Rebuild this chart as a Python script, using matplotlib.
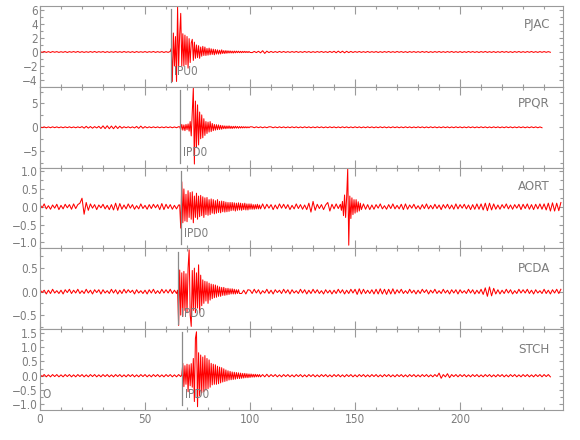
import numpy as np
import matplotlib
matplotlib.use('Agg')
import matplotlib.pyplot as plt
from matplotlib import font_manager as fm
from matplotlib.ticker import MultipleLocator, FuncFormatter

# ---------------- data ----------------
DT = 1.0        # background sample interval (s), traces start at t = 0
DT_FAST = 0.5   # sample interval of the dense arrival windows (s)
STATIONS = ['PJAC', 'PPQR', 'AORT', 'PCDA', 'STCH']
PICK_LABELS = ['IPU0', 'IPD0', 'IPD0', 'IPD0', 'IPD0']
PICK_TIMES = [62.4, 66.7, 67.1, 65.7, 67.6]
ORIGIN_LABEL = 'O'
X_TICKS = [0, 50, 100, 150, 200]

# background records (1 s)
PJAC = [
    0.06, -0.05, 0.07, -0.06, 0.05, -0.07, 0.06, -0.04, 0.05, -0.06,
    0.04, -0.05, 0.06, -0.07, 0.05, -0.04, 0.06, -0.05, 0.07, -0.06,
    0.05, -0.06, 0.04, -0.05, 0.06, -0.05, 0.07, -0.06, 0.05, -0.04,
    0.06, -0.07, 0.05, -0.06, 0.04, -0.05, 0.06, -0.05, 0.05, -0.06,
    0.07, -0.05, 0.04, -0.06, 0.05, -0.07, 0.06, -0.05, 0.04, -0.05,
    0.06, -0.06, 0.05, -0.04, 0.07, -0.06, 0.05, -0.05, 0.06, -0.07,
    0.05, -0.06, 0.08, -4.20, 2.70, -3.60, 6.40, -4.20, 5.40, -2.60,
    2.50, -2.30, 1.70, -1.30, 1.60, -1.00, 0.90, -0.90, 0.80, -0.60,
    0.70, -0.50, 0.60, -0.50, 0.40, -0.35, 0.30, -0.30, 0.30, -0.25,
    0.20, -0.18, 0.15, -0.15, 0.14, -0.13, 0.12, -0.12, 0.10, -0.10,
    0.10, -0.09, 0.08, -0.09, 0.10, -0.12, 0.18, -0.20, 0.12, -0.09,
    0.08, -0.07, 0.06, -0.07, 0.08, -0.06, 0.07, -0.06, 0.05, -0.06,
    0.06, -0.05, 0.07, -0.06, 0.05, -0.06, 0.07, -0.05, 0.06, -0.07,
    0.05, -0.06, 0.06, -0.05, 0.07, -0.06, 0.05, -0.07, 0.08, -0.07,
    0.10, -0.11, 0.12, -0.10, 0.11, -0.12, 0.10, -0.09, 0.08, -0.07,
    0.06, -0.05, 0.07, -0.06, 0.05, -0.06, 0.07, -0.06, 0.05, -0.05,
    0.06, -0.07, 0.05, -0.06, 0.06, -0.05, 0.07, -0.06, 0.05, -0.06,
    0.07, -0.05, 0.06, -0.06, 0.05, -0.07, 0.06, -0.05, 0.06, -0.06,
    0.05, -0.06, 0.07, -0.05, 0.06, -0.07, 0.05, -0.06, 0.06, -0.05,
    0.07, -0.06, 0.05, -0.06, 0.06, -0.05, 0.07, -0.06, 0.05, -0.06,
    0.06, -0.07, 0.05, -0.06, 0.07, -0.05, 0.06, -0.06, 0.05, -0.07,
    0.06, -0.05, 0.07, -0.06, 0.05, -0.06, 0.06, -0.07, 0.05, -0.06,
    0.07, -0.05, 0.06, -0.06, 0.05, -0.07, 0.06, -0.05, 0.07, -0.06,
    0.05, -0.06, 0.06, -0.05, 0.07, -0.06, 0.05, -0.06, 0.06, -0.05,
    0.06, -0.05, 0.05, -0.04,
]

PPQR = [
    0.10, -0.08, 0.09, -0.10, 0.08, -0.09, 0.10, -0.08, 0.09, -0.10,
    0.08, -0.10, 0.09, -0.08, 0.10, -0.09, 0.08, -0.10, 0.09, -0.08,
    0.15, -0.18, 0.20, -0.17, 0.16, -0.19, 0.15, -0.14, 0.20, -0.25,
    0.30, -0.28, 0.32, -0.30, 0.26, -0.30, 0.28, -0.25, 0.22, -0.18,
    0.12, -0.10, 0.11, -0.12, 0.10, -0.14, 0.18, -0.22, 0.25, -0.20,
    0.15, -0.12, 0.10, -0.09, 0.10, -0.08, 0.09, -0.10, 0.08, -0.09,
    0.10, -0.08, 0.09, -0.10, 0.08, -0.09, 0.12, -0.60, 0.70, -0.80,
    0.90, -1.40, -2.80, 8.20, -7.70, 4.70, -3.70, 2.60, -2.20, 1.60,
    -1.30, 1.20, -1.00, 0.70, -0.60, 0.60, -0.50, 0.35, -0.30, 0.30,
    -0.30, 0.25, -0.25, 0.20, -0.20, 0.20, -0.15, 0.15, -0.12, 0.12,
    -0.10, 0.10, -0.09, 0.10, -0.08, 0.09, -0.10, 0.08, -0.09, 0.10,
    0.09, -0.10, 0.08, -0.09, 0.10, -0.08, 0.09, -0.10, 0.08, -0.09,
    0.10, -0.08, 0.09, -0.10, 0.08, -0.09, 0.10, -0.08, 0.09, -0.10,
    0.08, -0.09, 0.10, -0.08, 0.09, -0.10, 0.08, -0.09, 0.10, -0.08,
    0.09, -0.10, 0.08, -0.09, 0.10, -0.08, 0.09, -0.10, 0.08, -0.09,
    0.10, -0.08, 0.09, -0.10, 0.08, -0.09, 0.10, -0.08, 0.09, -0.10,
    0.08, -0.09, 0.10, -0.08, 0.09, -0.10, 0.08, -0.09, 0.10, -0.08,
    0.09, -0.10, 0.08, -0.09, 0.10, -0.08, 0.09, -0.10, 0.08, -0.09,
    0.10, -0.08, 0.09, -0.10, 0.08, -0.09, 0.10, -0.08, 0.09, -0.10,
    0.08, -0.09, 0.10, -0.08, 0.09, -0.10, 0.08, -0.09, 0.10, -0.08,
    0.09, -0.10, 0.08, -0.09, 0.10, -0.08, 0.09, -0.10, 0.08, -0.09,
    0.10, -0.08, 0.09, -0.10, 0.08, -0.09, 0.10, -0.08, 0.09, -0.10,
    0.08, -0.09, 0.10, -0.08, 0.09, -0.10, 0.08, -0.09, 0.10, -0.08,
    0.09, -0.10, 0.08, -0.09, 0.10, -0.08, 0.09, -0.10, 0.08, -0.09,
]

AORT = [
    0.06, -0.03, 0.08, -0.06, 0.03, -0.07, 0.05, -0.04, 0.07, -0.08,
    0.04, -0.06, 0.07, -0.03, 0.06, -0.07, 0.08, -0.05, 0.06, 0.10,
    0.24, -0.21, 0.12, -0.10, 0.08, -0.04, 0.06, -0.08, 0.05, -0.03,
    0.07, -0.06, 0.04, -0.08, 0.06, -0.09, 0.10, -0.10, 0.09, -0.07,
    0.05, -0.06, 0.08, -0.04, 0.06, -0.07, 0.03, -0.06, 0.08, -0.05,
    0.04, -0.07, 0.06, -0.05, 0.07, -0.03, 0.06, -0.08, 0.09, -0.08,
    0.07, -0.05, 0.06, -0.07, 0.04, -0.06, 0.05, -0.60, 0.70, -0.45,
    0.45, -0.40, 0.42, -0.45, 0.38, -0.35, 0.40, -0.32, 0.30, -0.30,
    0.28, -0.30, 0.25, -0.22, 0.24, -0.20, 0.22, -0.18, 0.20, -0.18,
    0.16, -0.15, 0.15, -0.14, 0.13, -0.12, 0.12, -0.11, 0.10, -0.10,
    0.09, -0.09, 0.08, -0.08, 0.07, -0.07, 0.08, -0.06, 0.07, -0.04,
    0.06, -0.08, 0.05, -0.06, 0.08, -0.04, 0.07, -0.05, 0.06, -0.08,
    0.04, -0.06, 0.08, -0.05, 0.06, -0.07, 0.05, -0.08, 0.10, -0.15,
    0.15, -0.10, 0.07, -0.05, 0.06, -0.08, 0.05, 0.12, -0.12, 0.07,
    -0.06, 0.08, -0.05, 0.10, 0.12, -0.30, 1.06, -1.08, 0.30, -0.25,
    0.22, -0.20, 0.15, -0.12, 0.08, -0.07, 0.06, -0.08, 0.05, -0.07,
    0.06, -0.04, 0.08, -0.06, 0.03, -0.07, 0.06, -0.05, 0.08, -0.06,
    0.04, -0.06, 0.07, -0.08, 0.08, -0.07, 0.05, -0.04, 0.07, -0.06,
    0.03, -0.07, 0.06, -0.05, 0.08, -0.06, 0.04, -0.06, 0.07, -0.05,
    0.05, -0.08, 0.06, -0.04, 0.07, -0.06, 0.05, -0.07, 0.08, -0.06,
    0.06, -0.04, 0.07, -0.06, 0.05, -0.08, 0.06, -0.07, 0.08, -0.07,
    0.08, -0.09, 0.10, -0.11, 0.10, -0.09, 0.08, -0.07, 0.05, -0.07,
    0.06, -0.04, 0.08, -0.06, 0.05, -0.07, 0.06, -0.04, 0.07, -0.08,
    0.07, -0.05, 0.08, -0.07, 0.06, -0.08, 0.07, -0.06, 0.08, -0.07,
    0.08, -0.09, 0.10, -0.12, 0.11, -0.12, 0.10, -0.11, 0.12,
]

PCDA = [
    0.04, -0.02, 0.03, -0.05, 0.03, -0.04, 0.05, -0.03, 0.02, -0.04,
    0.03, -0.05, 0.04, -0.02, 0.05, -0.04, 0.03, -0.03, 0.05, -0.04,
    0.02, -0.04, 0.05, -0.03, 0.03, -0.05, 0.04, -0.02, 0.04, -0.05,
    0.04, -0.03, 0.02, -0.04, 0.05, -0.03, 0.04, -0.05, 0.03, -0.04,
    0.05, -0.03, 0.04, -0.02, 0.03, -0.05, 0.04, -0.03, 0.02, -0.04,
    0.03, -0.05, 0.04, -0.03, 0.05, -0.04, 0.02, -0.04, 0.05, -0.03,
    0.04, -0.03, 0.05, -0.04, 0.03, -0.04, -0.72, 0.46, -0.53, 0.43,
    -0.50, 0.89, -0.74, 0.50, -0.45, 0.55, -0.40, 0.30, -0.25, 0.21,
    -0.22, 0.18, -0.16, 0.15, -0.12, 0.12, -0.10, 0.09, -0.08, 0.08,
    -0.07, 0.06, -0.05, 0.05, -0.04, 0.04, -0.04, 0.03, -0.05, 0.04,
    0.03, -0.04, 0.05, -0.03, 0.04, -0.05, 0.02, -0.03, 0.05, -0.04,
    0.03, -0.05, 0.04, -0.02, 0.03, -0.04, 0.05, -0.03, 0.04, -0.05,
    0.04, -0.03, 0.02, -0.04, 0.05, -0.03, 0.04, -0.05, 0.03, -0.04,
    0.05, -0.03, 0.04, -0.04, 0.02, -0.05, 0.04, -0.03, 0.03, -0.05,
    0.03, -0.04, 0.05, -0.03, 0.04, -0.05, 0.03, -0.04, 0.05, -0.03,
    0.05, -0.06, 0.06, -0.05, 0.05, -0.04, 0.03, -0.04, 0.04, -0.05,
    0.05, -0.05, 0.06, -0.05, 0.05, -0.06, 0.05, -0.05, 0.06, -0.05,
    0.04, -0.03, 0.05, -0.04, 0.02, -0.04, 0.05, -0.03, 0.03, -0.05,
    0.03, -0.04, 0.05, -0.02, 0.04, -0.05, 0.03, -0.03, 0.05, -0.04,
    0.02, -0.04, 0.05, -0.03, 0.03, -0.05, 0.04, -0.03, 0.04, -0.05,
    0.04, -0.03, 0.02, -0.04, 0.05, -0.03, 0.04, -0.05, 0.03, -0.04,
    0.05, -0.06, 0.08, -0.10, 0.10, -0.09, 0.07, -0.05, 0.04, -0.05,
    0.03, -0.04, 0.05, -0.03, 0.04, -0.05, 0.02, -0.04, 0.05, -0.03,
    0.04, -0.03, 0.05, -0.04, 0.03, -0.05, 0.04, -0.03, 0.02, -0.04,
    0.05, -0.04, 0.03, -0.05, 0.04, -0.03, 0.05, -0.04, 0.05,
]

STCH = [
    0.04, -0.03, 0.04, -0.04, 0.03, -0.04, 0.04, -0.03, 0.04, -0.04,
    0.03, -0.04, 0.04, -0.03, 0.04, -0.04, 0.03, -0.04, 0.04, -0.03,
    0.04, -0.04, 0.03, -0.04, 0.04, -0.03, 0.04, -0.04, 0.03, -0.04,
    0.04, -0.03, 0.04, -0.04, 0.03, -0.04, 0.04, -0.03, 0.04, -0.04,
    0.03, -0.04, 0.04, -0.03, 0.04, -0.04, 0.03, -0.04, 0.04, -0.03,
    0.04, -0.04, 0.03, -0.04, 0.04, -0.03, 0.04, -0.04, 0.03, -0.04,
    0.04, -0.03, 0.04, -0.04, 0.03, -0.04, 0.04, -0.03, 0.43, -0.38,
    0.40, -0.56, 0.45, -0.90, 1.53, -1.08, 0.90, -0.70, 0.72, -0.56,
    0.60, -0.45, 0.43, -0.32, 0.40, -0.30, 0.35, -0.28, 0.30, -0.22,
    0.18, -0.15, 0.15, -0.14, 0.13, -0.12, 0.12, -0.10, 0.10, -0.09,
    0.08, -0.07, 0.06, -0.06, 0.05, -0.05, 0.04, -0.04, 0.05, -0.04,
    0.04, -0.03, 0.04, -0.04, 0.03, -0.04, 0.04, -0.03, 0.04, -0.04,
    0.03, -0.04, 0.04, -0.03, 0.04, -0.04, 0.03, -0.04, 0.04, -0.03,
    0.04, -0.04, 0.03, -0.04, 0.04, -0.03, 0.04, -0.04, 0.03, -0.04,
    0.04, -0.03, 0.04, -0.04, 0.03, -0.04, 0.04, -0.03, 0.04, -0.04,
    0.03, -0.04, 0.04, -0.03, 0.04, -0.04, 0.03, -0.04, 0.04, -0.03,
    0.04, -0.04, 0.03, -0.04, 0.04, -0.03, 0.04, -0.04, 0.03, -0.04,
    0.04, -0.03, 0.04, -0.04, 0.03, -0.04, 0.04, -0.03, 0.04, -0.04,
    0.03, -0.04, 0.04, -0.03, 0.04, -0.04, 0.03, -0.04, 0.04, -0.03,
    0.09, -0.09, 0.04, -0.04, 0.07, -0.07, 0.04, -0.03, 0.04, -0.04,
    0.04, -0.03, 0.04, -0.04, 0.03, -0.04, 0.04, -0.03, 0.04, -0.04,
    0.03, -0.04, 0.04, -0.03, 0.04, -0.04, 0.03, -0.04, 0.04, -0.03,
    0.04, -0.04, 0.03, -0.04, 0.04, -0.03, 0.04, -0.04, 0.03, -0.04,
    0.04, -0.03, 0.04, -0.04, 0.03, -0.04, 0.04, -0.03, 0.04, -0.04,
    0.04, -0.03, 0.04, -0.04,
]

# dense windows around the arrivals (0.5 s), start times in s
PJAC_P_T0 = 62.5
PJAC_P = [
    0.50, -4.20, 2.70, -2.00, 2.20, -4.20, 6.40, -2.20, 2.50, 5.50,
    -2.00, 2.60, -2.00, 2.40, -1.80, 2.20, -2.30, 1.90, -1.50, 1.30,
    1.80, -1.20, 1.40, -0.90, 1.00, -0.80, 0.90, -0.90, 0.70, -0.60,
    0.80, -0.50, 0.70, -0.50, 0.50, -0.45, 0.55, -0.40, 0.45, -0.35,
    0.40, -0.40, 0.35, -0.30, 0.30, -0.30, 0.25, -0.28, 0.30, -0.22,
    0.20, -0.22, 0.20, -0.18, 0.17, -0.15, 0.15, -0.14, 0.12, -0.15,
    0.13, -0.12, 0.12, -0.10, 0.11, -0.10, 0.09, -0.10, 0.09, -0.08,
    0.09, -0.08, 0.07, -0.08, 0.07, -0.06,
]
PPQR_P_T0 = 66.5
PPQR_P = [
    0.10, -0.50, 0.60, -0.60, 0.50, -0.70, 0.60, -0.50, 0.70, -0.80,
    1.20, -1.80, 3.00, 8.20, -7.70, 5.50, -4.20, 4.70, -3.70, 3.20,
    -2.40, 2.60, -2.20, 1.80, -1.70, 1.20, -1.30, 1.10, -1.00, 1.20,
    -0.90, 0.80, -0.70, 0.60, -0.60, 0.55, -0.50, 0.50, -0.45, 0.40,
    -0.40, 0.35, -0.30, 0.30, -0.30, 0.28, -0.25, 0.30, -0.25, 0.22,
    -0.25, 0.20, -0.20, 0.22, -0.18, 0.18, -0.20, 0.16, -0.15, 0.15,
    -0.14, 0.13, -0.12, 0.12, -0.12, 0.10, -0.10, 0.10,
]
AORT_P_T0 = 66.5
AORT_P = [
    0.05, -0.60, 0.70, -0.45, 0.50, -0.40, 0.35, -0.42, 0.45, -0.30,
    0.40, -0.35, 0.42, -0.45, 0.30, -0.30, 0.38, -0.35, 0.30, -0.28,
    0.32, -0.25, 0.28, -0.30, 0.25, -0.22, 0.26, -0.24, 0.20, -0.22,
    0.22, -0.18, 0.20, -0.20, 0.17, -0.18, 0.20, -0.16, 0.15, -0.17,
    0.16, -0.14, 0.15, -0.15, 0.13, -0.14, 0.12, -0.13, 0.12, -0.11,
    0.12, -0.10, 0.11, -0.12, 0.10, -0.10, 0.11, -0.09, 0.10, -0.10,
    0.09, -0.08, 0.10, -0.09, 0.08, -0.09, 0.08, -0.07, 0.08, -0.07,
    0.06, -0.07, 0.06, -0.06, 0.07, -0.06, 0.05, -0.06,
]
AORT_S_T0 = 143.0
AORT_S = [
    0.07, -0.10, 0.15, -0.25, 0.33, -0.30, 0.28, 1.06, -1.08, 0.30,
    -0.33, 0.25, -0.22, 0.20, -0.18, 0.20, -0.15, 0.14, -0.12, 0.10,
    -0.08,
]
PCDA_P_T0 = 65.5
PCDA_P = [
    0.03, -0.72, 0.46, -0.50, 0.40, -0.53, 0.43, -0.40, 0.38, -0.45,
    0.50, 0.89, -0.50, -0.74, 0.45, -0.40, 0.50, -0.45, 0.40, -0.35,
    0.57, -0.45, 0.35, -0.30, 0.25, -0.25, 0.22, -0.20, 0.21, -0.25,
    0.18, -0.18, 0.16, -0.15, 0.15, -0.13, 0.14, -0.12, 0.12, -0.10,
    0.10, -0.10, 0.09, -0.08, 0.09, -0.08, 0.07, -0.07, 0.07, -0.06,
    0.06, -0.05, 0.06, -0.05, 0.05, -0.05, 0.04, -0.04, 0.04, -0.04,
]
STCH_P_T0 = 67.5
STCH_P = [
    0.03, 0.43, -0.38, 0.35, -0.30, 0.40, -0.56, 0.38, -0.35, 0.42,
    -0.40, 0.60, -0.90, 1.30, 1.53, -1.08, 0.80, -0.70, 0.72, -0.60,
    0.65, -0.56, 0.70, -0.50, 0.60, -0.45, 0.55, -0.40, 0.43, -0.32,
    0.40, -0.30, 0.38, -0.30, 0.33, -0.28, 0.30, -0.25, 0.28, -0.22,
    0.24, -0.20, 0.20, -0.18, 0.17, -0.15, 0.15, -0.14, 0.13, -0.13,
    0.12, -0.12, 0.11, -0.10, 0.10, -0.10, 0.09, -0.09, 0.08, -0.08,
    0.08, -0.07, 0.07, -0.07, 0.06, -0.06, 0.06, -0.05, 0.05, -0.05,
    0.05, -0.04, 0.04, -0.04, 0.04, -0.04,
]

TRACES = [PJAC, PPQR, AORT, PCDA, STCH]
WINDOWS = [
    [(PJAC_P_T0, PJAC_P)],
    [(PPQR_P_T0, PPQR_P)],
    [(AORT_P_T0, AORT_P), (AORT_S_T0, AORT_S)],
    [(PCDA_P_T0, PCDA_P)],
    [(STCH_P_T0, STCH_P)],
]


def build(bg, windows):
    t_bg = np.arange(len(bg)) * DT
    v_bg = np.asarray(bg, dtype=float)
    keep = np.ones(len(bg), dtype=bool)
    ts, vs = [], []
    for t0, w in windows:
        tw = t0 + np.arange(len(w)) * DT_FAST
        keep &= ~((t_bg >= tw[0]) & (t_bg <= tw[-1]))
        ts.append(tw)
        vs.append(np.asarray(w, dtype=float))
    t = np.concatenate([t_bg[keep]] + ts)
    v = np.concatenate([v_bg[keep]] + vs)
    order = np.argsort(t, kind='stable')
    return t[order], v[order]


# ---------------- style ----------------
names = {f.name for f in fm.fontManager.ttflist}
if 'Liberation Sans Narrow' in names:
    plt.rcParams['font.family'] = ['Liberation Sans Narrow', 'DejaVu Sans']
else:
    plt.rcParams['font.family'] = ['DejaVu Sans']
    if any(f.name == 'DejaVu Sans' and f.stretch == 'condensed' for f in fm.fontManager.ttflist):
        plt.rcParams['font.stretch'] = 'condensed'

TXT = '#7d7d7d'
AX = '#9a9a9a'
RED = '#ff0000'

YLIMS = [(-4.96, 6.55), (-8.45, 8.49), (-1.17, 1.10), (-0.80, 0.92), (-1.195, 1.62)]
YMAJ = [2, 5, 0.5, 0.5, 0.5]
YMIN = [1, 2.5, 0.25, 0.25, 0.25]
YDEC = [0, 0, 1, 1, 1]
STA_Y = [0.765, 0.80, 0.77, 0.757, 0.745]


def fmt_factory(dec):
    def f(v, pos):
        s = f"{abs(v):.{dec}f}"
        if round(v, 6) < 0:
            s = '\u2212' + s
        return s
    return FuncFormatter(f)


fig = plt.figure(figsize=(5.8, 4.4), dpi=100)
fig.patch.set_facecolor('white')
axes = fig.subplots(5, 1, sharex=True)
fig.subplots_adjust(left=40 / 580, right=563 / 580, top=1 - 6 / 440, bottom=1 - 410 / 440, hspace=0)

for i, ax in enumerate(axes):
    t, v = build(TRACES[i], WINDOWS[i])
    ax.plot(t, v, color=RED, lw=0.75, zorder=2)
    ax.set_ylim(*YLIMS[i])
    ax.set_xlim(0, 249)
    ax.yaxis.set_major_locator(MultipleLocator(YMAJ[i]))
    ax.yaxis.set_minor_locator(MultipleLocator(YMIN[i]))
    ax.yaxis.set_major_formatter(fmt_factory(YDEC[i]))
    for sp in ax.spines.values():
        sp.set_color(AX)
        sp.set_linewidth(0.8)
    ax.tick_params(which='both', direction='in', top=True, right=True,
                   color=AX, labelcolor=TXT, labelsize=8.5, width=0.8)
    ax.tick_params(axis='x', which='major', length=5.5, pad=2.5)
    ax.tick_params(axis='x', which='minor', length=2.5)
    ax.tick_params(axis='y', which='major', length=3.2, pad=1.5)
    ax.tick_params(axis='y', which='minor', length=2.4)
    # phase pick
    ax.axvline(PICK_TIMES[i], ymin=0.06, ymax=0.96, color='#8a8a8a', lw=0.9, zorder=3)
    ax.annotate(PICK_LABELS[i], xy=(PICK_TIMES[i], 0.19), xycoords=('data', 'axes fraction'),
                xytext=(2.0, 0), textcoords='offset points', ha='left', va='center',
                color=TXT, fontsize=8.5, zorder=5)
    ax.text(0.975, STA_Y[i], STATIONS[i], transform=ax.transAxes, ha='right', va='center',
            color=TXT, fontsize=9.5, zorder=5)

axes[-1].set_xticks(X_TICKS)
axes[-1].xaxis.set_minor_locator(MultipleLocator(10))
axes[-1].xaxis.set_major_formatter(FuncFormatter(lambda v, p: f"{int(round(v))}"))
axes[-1].annotate(ORIGIN_LABEL, xy=(0, 0.186), xycoords=('data', 'axes fraction'),
                  xytext=(1.5, 0), textcoords='offset points', ha='left', va='center',
                  color=TXT, fontsize=8.5, zorder=5)

fig.savefig('out.png', dpi=100, facecolor='white')
